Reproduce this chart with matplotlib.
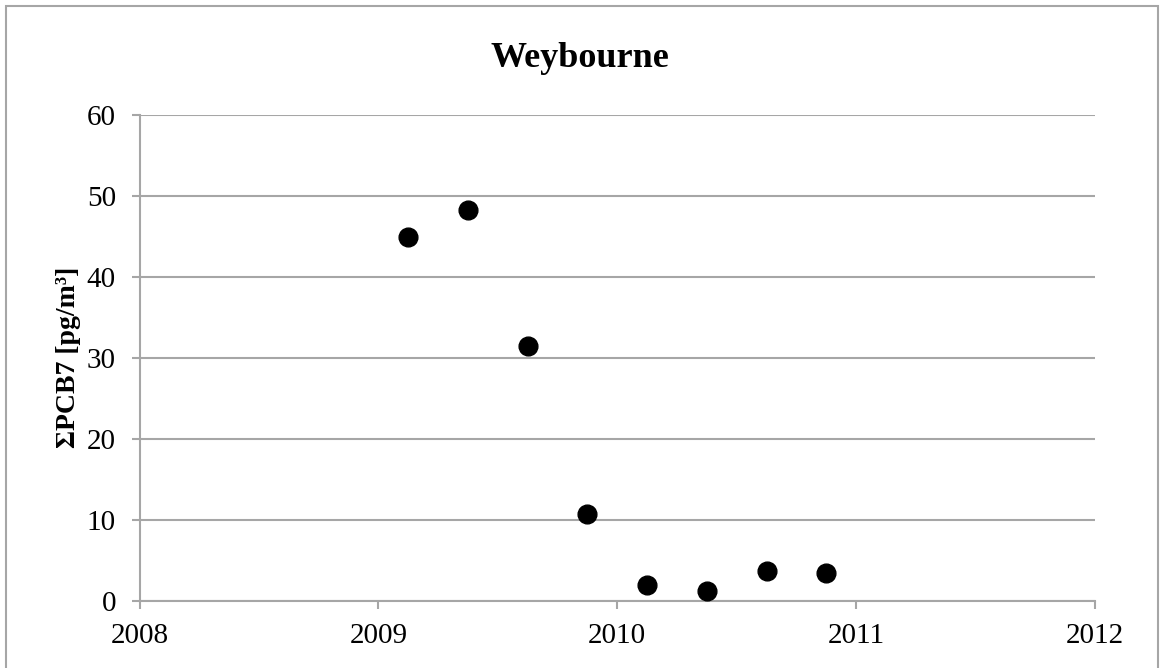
import matplotlib
matplotlib.use('Agg')
import matplotlib.pyplot as plt
from matplotlib.patches import Rectangle

# Sampling dates (quarterly) and sum of PCB7 concentrations
dates = [2009.125, 2009.375, 2009.625, 2009.875, 2010.125, 2010.375, 2010.625, 2010.875]
pcb7 = [44.9, 48.2, 31.4, 10.7, 1.9, 1.15, 3.7, 3.45]

x_ticks = [2008, 2009, 2010, 2011, 2012]
y_ticks = [0, 10, 20, 30, 40, 50, 60]

grey = '#a6a6a6'

fig = plt.figure(figsize=(11.6, 6.68), dpi=100)
ax = fig.add_axes([0.1203, 0.101, 0.944 - 0.1203, 0.828 - 0.101])

ax.plot(dates, pcb7, 'o', color='black', markersize=13.5, linestyle='none', zorder=3)

ax.set_xlim(x_ticks[0], x_ticks[-1])
ax.set_ylim(y_ticks[0], y_ticks[-1])
ax.set_xticks(x_ticks)
ax.set_yticks(y_ticks)
ax.yaxis.grid(True, color=grey, linewidth=1.5)
ax.set_axisbelow(True)

for side in ['top', 'right']:
    ax.spines[side].set_visible(False)
for side in ['left', 'bottom']:
    ax.spines[side].set_color(grey)
    ax.spines[side].set_linewidth(1.5)

ax.tick_params(axis='both', direction='out', color=grey, width=1.5, length=6,
               labelsize=21)
ax.tick_params(axis='x', pad=10)
ax.tick_params(axis='y', pad=11)
for lab in ax.get_xticklabels() + ax.get_yticklabels():
    lab.set_family('Liberation Serif')

ax.set_ylabel('ΣPCB7 [pg/m³]', fontsize=20, fontweight='bold',
              family='Liberation Serif', labelpad=4)

fig.text(0.5, 1 - 67 / 668, 'Weybourne', ha='center', va='baseline',
         fontsize=26, fontweight='bold', family='Liberation Serif')

# outer chart frame
fig.patches.append(Rectangle((5.5 / 1160, -0.01), (1158 - 5.5) / 1160, 1.01 - 6 / 668,
                             transform=fig.transFigure, fill=False,
                             edgecolor=grey, linewidth=1.5))

fig.savefig('out.png', dpi=100)
